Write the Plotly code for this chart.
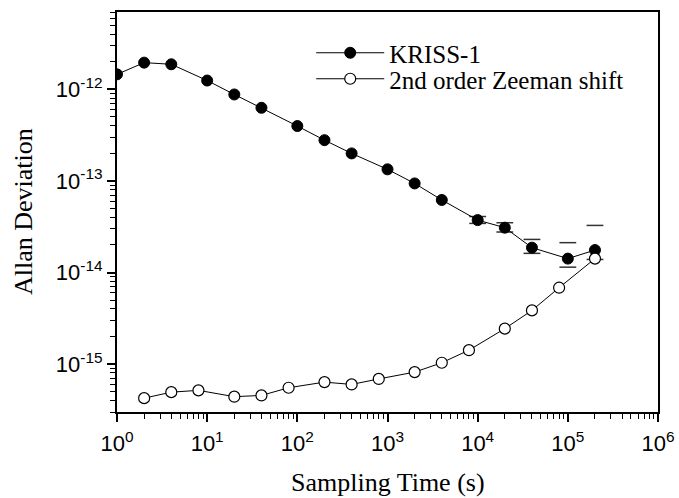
import plotly.graph_objects as go
import math

# KRISS-1 Allan deviation
kriss_tau = [1, 2, 4, 10, 20, 40, 100, 200, 400, 1000, 2000, 4000, 10000, 20000, 40000, 100000, 200000]
kriss_adev = [1.46e-12, 1.96e-12, 1.88e-12, 1.25e-12, 8.8e-13, 6.3e-13, 3.98e-13, 2.79e-13, 2.0e-13,
              1.34e-13, 9.4e-14, 6.2e-14, 3.74e-14, 3.09e-14, 1.87e-14, 1.42e-14, 1.76e-14]

# error bars (only caps visible in the reference)
err_tau = [10000, 20000, 40000, 100000, 200000]
err_val = [3.74e-14, 3.09e-14, 1.87e-14, 1.42e-14, 1.76e-14]
err_up = [0.35e-14, 0.41e-14, 0.43e-14, 0.70e-14, 1.51e-14]
err_dn = [0.30e-14, 0.32e-14, 0.25e-14, 0.275e-14, 0.37e-14]

# 2nd order Zeeman shift
zee_tau = [2, 4, 8, 20, 40, 80, 200, 400, 800, 2000, 4000, 8000, 20000, 40000, 80000, 200000]
zee_adev = [4.25e-16, 4.94e-16, 5.17e-16, 4.41e-16, 4.55e-16, 5.52e-16, 6.36e-16, 6.0e-16, 6.89e-16,
            8.18e-16, 1.035e-15, 1.42e-15, 2.44e-15, 3.86e-15, 6.83e-15, 1.42e-14]

# tick labels
x_tickvals = [1, 10, 100, 1000, 10000, 100000, 1000000]
x_ticktext = ["10<sup>0</sup>", "10<sup>1</sup>", "10<sup>2</sup>", "10<sup>3</sup>",
              "10<sup>4</sup>", "10<sup>5</sup>", "10<sup>6</sup>"]
y_tickvals = [1e-15, 1e-14, 1e-13, 1e-12]
y_ticktext = ["10<sup>-15</sup>", "10<sup>-14</sup>", "10<sup>-13</sup>", "10<sup>-12</sup>"]

x_title = "Sampling Time (s)"
y_title = "Allan Deviation"

cap_x = err_tau + err_tau
cap_y = [v + u for v, u in zip(err_val, err_up)] + [v - d for v, d in zip(err_val, err_dn)]

fig = go.Figure()

fig.add_trace(go.Scatter(
    x=cap_x, y=cap_y, mode="markers", showlegend=False, hoverinfo="skip",
    marker=dict(symbol="line-ew", size=12, line=dict(color="#333", width=1.5)),
))

fig.add_trace(go.Scatter(
    x=kriss_tau, y=kriss_adev, mode="lines+markers", name="KRISS-1", legend="legend",
    line=dict(color="black", width=1),
    marker=dict(symbol="circle", size=11, color="black", line=dict(color="black", width=1)),
))

fig.add_trace(go.Scatter(
    x=zee_tau, y=zee_adev, mode="lines+markers", name="2nd order Zeeman shift", legend="legend2",
    line=dict(color="black", width=1),
    marker=dict(symbol="circle", size=11, color="white", line=dict(color="black", width=1.2)),
))

tickfont = dict(family="Liberation Sans, Arial, sans-serif", size=22, color="black")
serif = "Liberation Serif, Times New Roman, serif"
legend_common = dict(
    x=0.359, xanchor="left", yanchor="top",
    font=dict(family=serif, size=25, color="black"),
    bgcolor="rgba(0,0,0,0)", borderwidth=0, itemwidth=68,
)

axis_common = dict(
    type="log", showgrid=False, zeroline=False, automargin=False,
    showline=True, linecolor="black", linewidth=2, mirror=True,
    ticks="outside", ticklen=8, tickwidth=1.5, tickcolor="black",
    minor=dict(dtick="D1", ticks="outside", ticklen=5, tickwidth=1.2, tickcolor="black", showgrid=False),
    tickfont=tickfont,
)

fig.update_layout(
    width=679, height=498,
    margin=dict(l=117, r=21, t=12, b=86),
    paper_bgcolor="white", plot_bgcolor="white",
    showlegend=True,
    legend=dict(y=0.955, **legend_common),
    legend2=dict(y=0.89, **legend_common),
    xaxis=dict(range=[0, 6], tickvals=x_tickvals, ticktext=x_ticktext, ticklabelstandoff=3, **axis_common),
    yaxis=dict(range=[math.log10(3e-16), math.log10(7e-12)], tickvals=y_tickvals, ticktext=y_ticktext,
               **axis_common),
    annotations=[
        dict(text=x_title, xref="paper", yref="paper", x=0.5, y=0, xanchor="center", yanchor="middle",
             yshift=-70, showarrow=False, font=dict(family=serif, size=26, color="black")),
        dict(text=y_title, xref="paper", yref="paper", x=0, y=0.5, xanchor="center", yanchor="middle",
             xshift=-94, textangle=-90, showarrow=False, font=dict(family=serif, size=26, color="black")),
    ],
)

fig.write_html("out.html", config={"displayModeBar": False},
               post_script="document.body.style.margin='0';document.body.style.padding='0';")
